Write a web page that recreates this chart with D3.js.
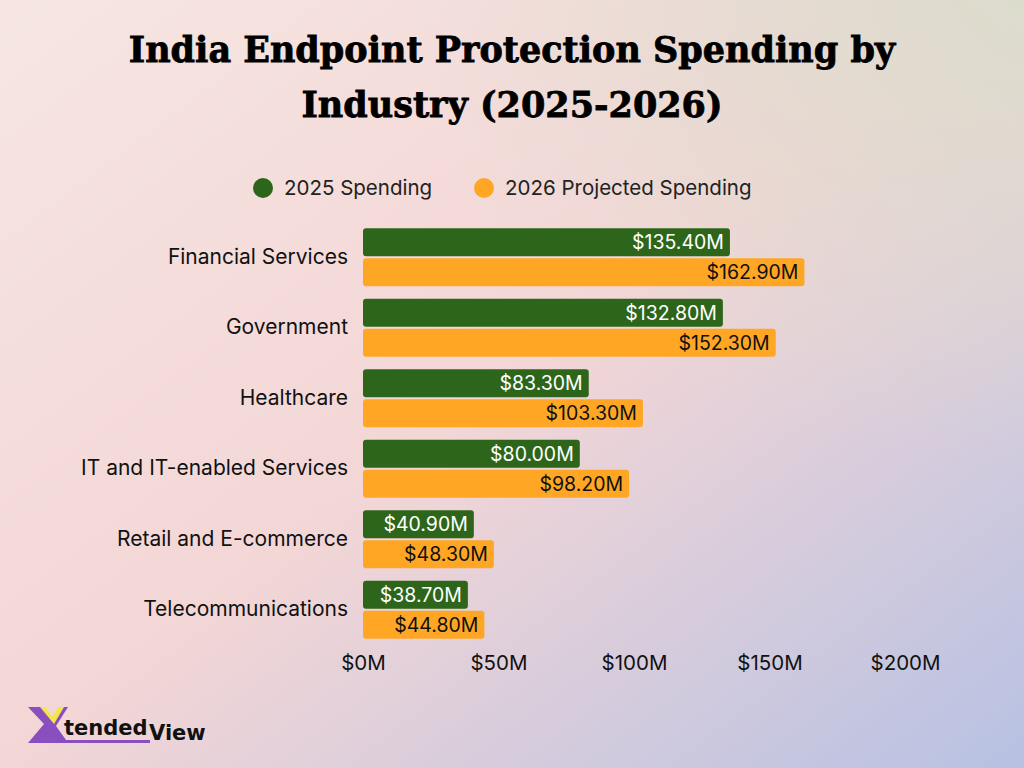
<!DOCTYPE html>
<html><head><meta charset="utf-8">
<script src="https://cdn.jsdelivr.net/npm/d3@7"></script>
<style>body{margin:0;}svg{display:block;}</style>
</head><body><svg id="c" width="1024" height="768"></svg>
<script>
const categories = ["Financial Services","Government","Healthcare","IT and IT-enabled Services","Retail and E-commerce","Telecommunications"];
const spending2025 = [135.4,132.8,83.3,80.0,40.9,38.7];
const spending2026 = [162.9,152.3,103.3,98.2,48.3,44.8];
const seriesNames = ["2025 Spending","2026 Projected Spending"];
const xTicks = [0,50,100,150,200];
const colors = ["#2d661b","#ffa625"];

const svg = d3.select("#c");
const defs = svg.append("defs");
const lg = defs.append("linearGradient").attr("id","bg").attr("x1","0").attr("y1","0").attr("x2","1").attr("y2","1");
lg.append("stop").attr("offset","0").attr("stop-color","#f6e6e2");
lg.append("stop").attr("offset","0.5").attr("stop-color","#f3d6d6");
lg.append("stop").attr("offset","1").attr("stop-color","#b7c1e3");
const rg = defs.append("radialGradient").attr("id","tr").attr("cx","1").attr("cy","0").attr("r","0.6");
rg.append("stop").attr("offset","0").attr("stop-color","#dcdccd").attr("stop-opacity",1);
rg.append("stop").attr("offset","1").attr("stop-color","#dcdccd").attr("stop-opacity",0);
svg.append("rect").attr("width",1024).attr("height",768).attr("fill","url(#bg)");
svg.append("rect").attr("width",1024).attr("height",768).attr("fill","url(#tr)");

[["India Endpoint Protection Spending by",62],["Industry (2025-2026)",117]].forEach(([t,yy])=>{
  svg.append("text").attr("x",512).attr("y",yy).attr("text-anchor","middle")
    .attr("font-family","DejaVu Serif").attr("font-weight","bold").attr("font-size",35)
    .attr("stroke","#000").attr("stroke-width",0.8).attr("fill","#000").text(t);
});

const leg = [[263,284],[484,505]];
seriesNames.forEach((n,i)=>{
  svg.append("circle").attr("cx",leg[i][0]).attr("cy",188).attr("r",10).attr("fill",colors[i]);
  svg.append("text").attr("x",leg[i][1]).attr("y",195).attr("font-family","Inter").attr("font-size",20.5).attr("fill","#222").text(n);
});

const x = d3.scaleLinear().domain([0,200]).range([363,905]);
const y = d3.scaleBand().domain(categories).range([222,645]).paddingInner(0).paddingOuter(0);
const bh = 28;

const xa = svg.append("g").attr("transform","translate(0,650)")
  .call(d3.axisBottom(x).tickValues(xTicks).tickFormat(d=>"$"+d+"M").tickSize(0));
xa.select(".domain").remove();
xa.selectAll("text").attr("font-family","Inter").attr("font-size",20.5).attr("fill","#111").attr("dy","0.85em");

const ya = svg.append("g").attr("transform","translate(348,0)")
  .call(d3.axisLeft(y).tickSize(0).tickPadding(0));
ya.select(".domain").remove();
ya.selectAll("text").attr("font-family","Inter").attr("font-size",21).attr("fill","#111");

const series = [spending2025, spending2026];
series.forEach((vals,si)=>{
  const g = svg.append("g");
  categories.forEach((c,i)=>{
    const cy = y(c)+y.bandwidth()/2;
    const top = si===0 ? cy-bh-1 : cy+1;
    g.append("rect").attr("x",x(0)).attr("y",top).attr("width",x(vals[i])-x(0)).attr("height",bh)
      .attr("rx",3).attr("fill",colors[si]);
    g.append("text").attr("x",x(vals[i])-6).attr("y",top+bh/2).attr("dy","0.36em").attr("text-anchor","end")
      .attr("font-family","Inter").attr("font-size",19.5).attr("fill",si===0?"#fff":"#111")
      .text("$"+vals[i].toFixed(2)+"M");
  });
});

const logo = svg.append("g");
logo.append("path").attr("d","M28 707 L44 707 L52 720 L60 707 L68 707 L56 726 L66 740 L150 740 L150 743 L28 743 L44 724 Z").attr("fill","#8a4fbf");
logo.append("path").attr("d","M40 707 L46 707 L52 717 L58 707 L64 707 L54 724 Z").attr("fill","#f4e64a");
logo.append("text").attr("x",64).attr("y",735).attr("font-family","DejaVu Sans").attr("font-weight","bold").attr("font-size",21).attr("fill","#111").text("tended");
logo.append("text").attr("x",149).attr("y",740).attr("font-family","DejaVu Sans").attr("font-weight","bold").attr("font-size",21).attr("fill","#111").text("View");
</script></body></html>
